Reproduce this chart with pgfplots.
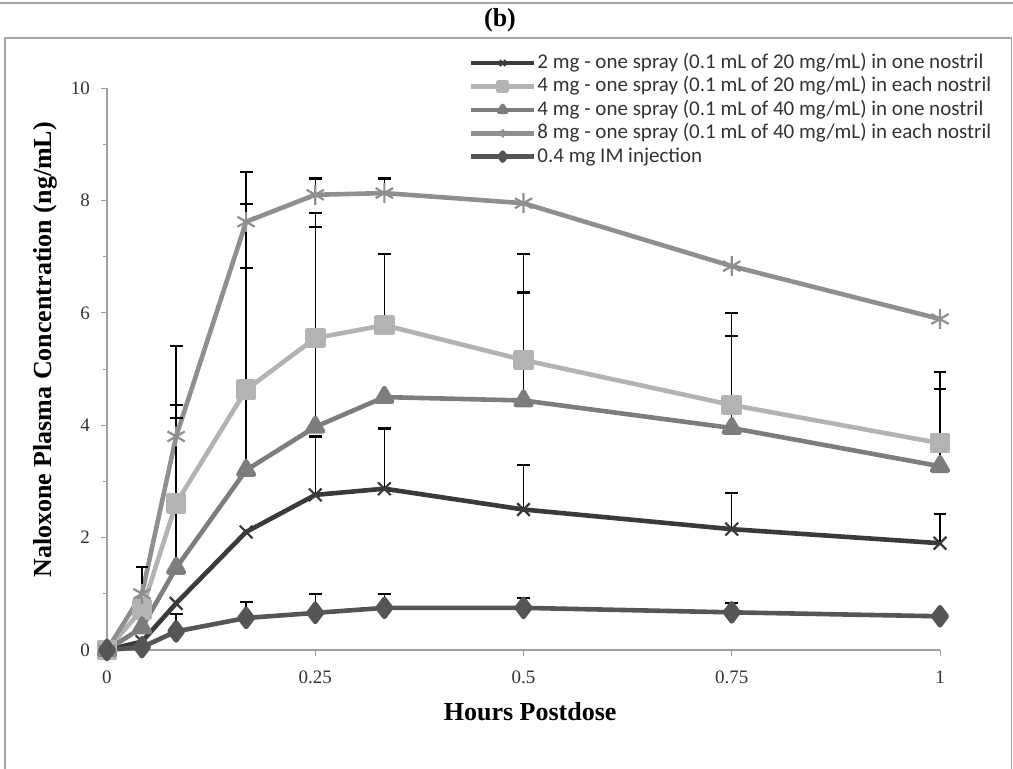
\documentclass[border=0pt]{standalone}
\usepackage{fontspec}
\setmainfont{Liberation Serif}
\newfontfamily\calibri{Carlito}
\usepackage{pgfplots}
\pgfplotsset{compat=1.18}
\usepackage{pgfplotstable}
\usetikzlibrary{plotmarks}

\definecolor{cTwo}{HTML}{3A3A3A}
\definecolor{cFourEach}{HTML}{B3B3B3}
\definecolor{cFourOne}{HTML}{7D7D7D}
\definecolor{cEight}{HTML}{8F8F8F}
\definecolor{cIM}{HTML}{555555}

% mean concentrations (ng/mL) vs hours postdose
\pgfplotstableread{
x      two   foureach fourone eight  im
0      0     0        0       0      0
0.042  0.15  0.72     0.40    1.00   0.05
0.083  0.83  2.61     1.46    3.80   0.33
0.167  2.10  4.63     3.20    7.62   0.57
0.25   2.76  5.55     3.97    8.10   0.66
0.333  2.87  5.78     4.50    8.13   0.75
0.5    2.50  5.16     4.44    7.95   0.75
0.75   2.15  4.36     3.95    6.83   0.67
1      1.90  3.68     3.27    5.89   0.60
}\means

% upper error bars: x, mean, +sd
\pgfplotstableread{
x      y     e
0.042  1.00  0.48
0.083  3.80  1.61
0.083  2.61  1.75
0.083  1.46  2.67
0.083  0.33  0.31
0.167  7.62  0.89
0.167  4.63  3.30
0.167  3.20  3.60
0.167  0.57  0.29
0.25   8.10  0.29
0.25   5.55  2.22
0.25   3.97  3.56
0.25   2.76  1.04
0.25   0.66  0.34
0.333  8.13  0.26
0.333  5.78  1.26
0.333  2.87  1.07
0.333  0.75  0.24
0.5    5.16  1.89
0.5    4.44  1.92
0.5    2.50  0.79
0.5    0.75  0.18
0.75   4.36  1.64
0.75   3.95  1.64
0.75   2.15  0.64
0.75   0.67  0.17
1      3.68  1.27
1      3.27  1.37
1      1.90  0.52
}\errs

\begin{document}
\begin{tikzpicture}
\useasboundingbox (0,0) rectangle (506.5pt,384pt);
\draw[gray!70, line width=0.8pt] (0,382.5pt) -- (506.5pt,382.5pt);
\draw[gray!70, line width=0.8pt] (2.5pt,-2pt) -- (2.5pt,365pt) -- (505.8pt,365pt) -- (505.8pt,-2pt);
\node[font=\bfseries\fontsize{13}{15}\selectfont] at (250pt,374pt) {(b)};

\begin{axis}[
    at={(53.5pt,59pt)}, anchor=origin,
    scale only axis,
    width=416.5pt, height=281pt,
    xmin=0, xmax=1, ymin=0, ymax=10,
    clip=false,
    axis x line=bottom, axis y line=left,
    axis line style={-, draw=gray!75, line width=0.6pt},
    xtick={0,0.25,0.5,0.75,1},
    ytick={0,2,4,6,8,10},
    minor y tick num=1,
    tick align=outside,
    major tick length=3pt, minor tick length=2pt,
    tick style={gray!75, line width=0.5pt},
    /pgf/number format/assume math mode=true,
    /pgf/number format/fixed,
    ticklabel style={font=\fontsize{9.5}{11}\selectfont, text=black!80},
    xticklabel style={yshift=-4pt},
    yticklabel style={xshift=-2pt},
    xlabel={\bfseries Hours Postdose},
    ylabel={\bfseries Naloxone Plasma Concentration (ng/mL)},
    label style={font=\fontsize{13}{15}\selectfont},
    xlabel style={at={(axis description cs:0.508,-0.11)}, anchor=center},
    ylabel style={at={(axis description cs:-0.074,0.534)}, anchor=center},
    legend style={at={(0.427,1.073)}, anchor=north west, draw=none, fill=none,
        font=\calibri\fontsize{10.5}{12}\selectfont, text=black!80,
        row sep=0pt, nodes={inner sep=0.6pt, text height=8pt, text depth=2.5pt}},
    legend cell align=left,
    legend image code/.code={
        \draw[mark repeat=2, mark phase=2, mark size=2pt]
            plot coordinates {(0cm,0cm) (0.55cm,0cm) (1.1cm,0cm)};},
    every axis plot/.append style={line width=2.3pt, line join=round},
]
\addplot[cTwo, mark=x, mark size=4.5pt, mark options={line width=1.1pt}]
    table[x=x, y=two] {\means};
\addlegendentry{2 mg - one spray (0.1 mL of 20 mg/mL) in one nostril}
\addplot[cFourEach, mark=square*, mark size=4pt, mark options={solid}]
    table[x=x, y=foureach] {\means};
\addlegendentry{4 mg - one spray (0.1 mL of 20 mg/mL) in each nostril}
\addplot[cFourOne, mark=triangle*, mark size=4.5pt]
    table[x=x, y=fourone] {\means};
\addlegendentry{4 mg - one spray (0.1 mL of 40 mg/mL) in one nostril}
\addplot[cEight, mark=asterisk, mark size=5pt, mark options={line width=1.1pt}]
    table[x=x, y=eight] {\means};
\addlegendentry{8 mg - one spray (0.1 mL of 40 mg/mL) in each nostril}
\addplot[cIM, mark=diamond*, mark size=4.5pt]
    table[x=x, y=im] {\means};
\addlegendentry{0.4 mg IM injection}

\addplot[draw=none, forget plot, mark=none,
    error bars/.cd, y dir=plus, y explicit,
    error bar style={draw=black, line width=0.7pt},
    error mark options={draw=black, rotate=90, mark size=3.2pt, line width=1.1pt}]
    table[x=x, y=y, y error=e] {\errs};
\end{axis}
\end{tikzpicture}
\end{document}
